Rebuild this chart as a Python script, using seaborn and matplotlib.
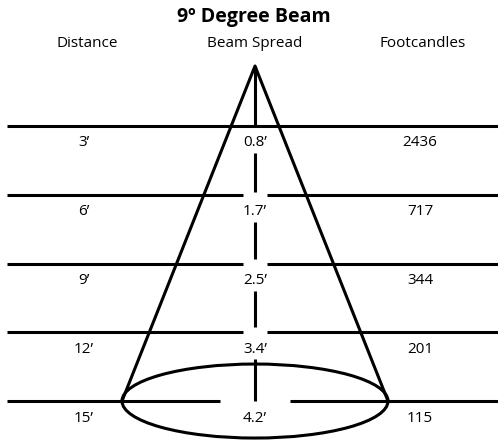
import matplotlib
matplotlib.use("Agg")
import matplotlib.pyplot as plt
import seaborn as sns
from matplotlib.patches import Ellipse

title = "9º Degree Beam"
headers = ["Distance", "Beam Spread", "Footcandles"]
distances = [3, 6, 9, 12, 15]
distance_labels = ["3’", "6’", "9’", "12’", "15’"]
spread_labels = ["0.8’", "1.7’", "2.5’", "3.4’", "4.2’"]
footcandles = [2436, 717, 344, 201, 115]

sns.set_theme(style="white")
plt.rcParams['font.family'] = ['Open Sans', 'DejaVu Sans']

# x in pixels, y in feet (22.9 px per foot)
px_per_ft = 22.92
head_x = [87, 255, 423]
col_x = [84, 255, 420]
cx = 255
fig = plt.figure(figsize=(4.98, 4.43), dpi=100)
ax = fig.add_axes([0, 0, 1, 1])
ax.set_xlim(0, 498)
top = 3 - 126 / px_per_ft
bottom = 3 + (443 - 126) / px_per_ft
ax.set_ylim(bottom, top)
ax.axis("off")

lw = 2.2
apex_y = 3 - 60 / px_per_ft
base_half = 133
base_h = 74 / px_per_ft
last = distances[-1]

# horizontal lines
for i, d in enumerate(distances):
    if i == 0:
        ax.plot([7, 498], [d, d], color="black", lw=lw, solid_capstyle="butt")
    else:
        gap = 12 if d != last else 35
        ax.plot([7, cx - gap], [d, d], color="black", lw=lw, solid_capstyle="butt")
        ax.plot([cx + gap, 498], [d, d], color="black", lw=lw, solid_capstyle="butt")

# cone
sns.lineplot(x=[cx - base_half, cx, cx + base_half], y=[last, apex_y, last],
             sort=False, color="black", lw=lw, ax=ax, estimator=None)
ax.add_patch(Ellipse((cx, last), 2 * base_half, base_h, fill=False,
                     edgecolor="black", lw=lw))

# broken center line
ax.plot([cx, cx], [apex_y, distances[0]], color="black", lw=lw, solid_capstyle="butt")
for i in range(len(distances) - 1):
    d0, d1 = distances[i], distances[i + 1]
    y0 = d0 + 27 / px_per_ft
    y1 = d1 - (3 if i == 0 else 5) / px_per_ft
    if d1 == last:
        y1 = d1
    ax.plot([cx, cx], [y0, y1], color="black", lw=lw, solid_capstyle="butt")

# text
ax.text(cx - 1, 3 - 109 / px_per_ft, title, ha="center", va="center",
        fontsize=14, fontweight="bold", color="black")
for x, h in zip(head_x, headers):
    ax.text(x, 3 - 82 / px_per_ft, h, ha="center", va="center", fontsize=11, color="black")
for d, dl, sl, fc in zip(distances, distance_labels, spread_labels, footcandles):
    y = d + 17 / px_per_ft
    for x, s in zip(col_x, [dl, sl, str(fc)]):
        ax.text(x, y, s, ha="center", va="center", fontsize=11, color="black")

fig.savefig("out.png", dpi=100)
